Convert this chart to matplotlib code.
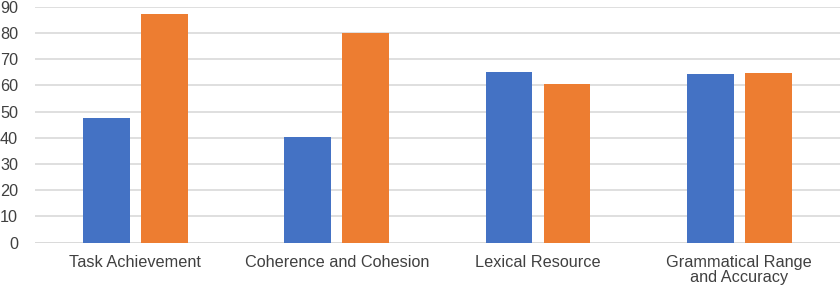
import matplotlib; matplotlib.use("Agg")
import matplotlib.pyplot as plt
import numpy as np

BLUE = "#4472C4"; ORANGE = "#ED7D31"; GRID = "#D9D9D9"; TXT = "#404040"

categories = ["Task Achievement", "Coherence and Cohesion", "Lexical Resource",
              "Grammatical Range\nand Accuracy"]
series_a = [47.5, 40.2, 65.3, 64.4]
series_b = [87.3, 80.0, 60.5, 64.7]
yticks = [0, 10, 20, 30, 40, 50, 60, 70, 80, 90]

plt.rcParams["font.family"] = ["Liberation Sans", "DejaVu Sans"]

fig = plt.figure(figsize=(8.4, 2.86), dpi=100)
ax = fig.add_axes([34.75/840, 43.3/286, 1 - 34.75/840, (242.7 - 6.8)/286])

x = np.arange(len(categories))
w = 0.233; gap = 0.055
ax.bar(x - (w + gap)/2, series_a, w, color=BLUE, zorder=3)
ax.bar(x + (w + gap)/2, series_b, w, color=ORANGE, zorder=3)

ax.set_xlim(-0.5, len(categories) - 0.5)
ax.set_ylim(0, 90)
ax.set_yticks(yticks)
ax.yaxis.grid(True, color=GRID, lw=1.2, zorder=0)
ax.set_xticks(x)
ax.set_xticklabels(categories, fontsize=11.7, color=TXT, linespacing=1.0)
ax.tick_params(axis="y", labelsize=11.7, labelcolor=TXT, length=0, pad=12)
ax.tick_params(axis="x", length=0, pad=9)
for s in ax.spines.values():
    s.set_visible(False)
ax.axhline(0, color=GRID, lw=1.2, zorder=1)

fig.savefig("out.png", dpi=100)
